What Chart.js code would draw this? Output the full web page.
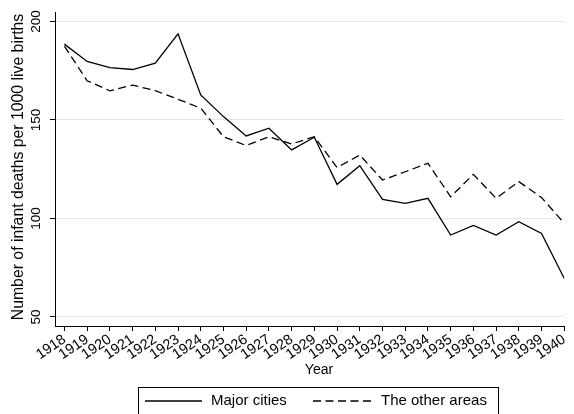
<!DOCTYPE html>
<html>
<head>
<meta charset="utf-8">
<title>Infant mortality, 1918–1940</title>
<script src="https://cdn.jsdelivr.net/npm/chart.js@4.4.1/dist/chart.umd.min.js"></script>
<style>
  html, body { margin: 0; padding: 0; background: #fff; overflow: hidden; }
  canvas { display: block; }
</style>
</head>
<body>
<canvas id="chart" width="574" height="414"></canvas>
<script>
// Infant deaths per 1000 live births by year
const years = [1918, 1919, 1920, 1921, 1922, 1923, 1924, 1925, 1926, 1927, 1928, 1929,
               1930, 1931, 1932, 1933, 1934, 1935, 1936, 1937, 1938, 1939, 1940];
const majorCities = [188.5, 179.7, 176.6, 175.6, 178.8, 193.7, 162.7, 151.7, 141.9, 145.8, 134.8, 141.2,
                     117.3, 126.8, 109.7, 107.7, 110.2, 91.6, 96.5, 91.6, 98.3, 92.4, 69.5];
const otherAreas = [187.5, 169.9, 164.8, 167.7, 164.9, 160.5, 156.0, 141.5, 137.0, 141.5, 137.8, 141.5,
                    125.8, 132.2, 119.5, 123.7, 128.0, 111.0, 122.4, 110.2, 118.7, 110.6, 97.5];
const yTicks = [50, 100, 150, 200];
const seriesNames = ['Major cities', 'The other areas'];
const xTitle = 'Year';
const yTitle = 'Number of infant deaths per 1000 live births';

const FONT = '"Liberation Sans", Arial, Helvetica, sans-serif';
const DASH = [8, 4.5];

const toPoints = vals => vals.map((v, i) => ({ x: years[i], y: v }));

// Vertical y tick labels, axis titles and a boxed legend underneath
const decorations = {
  id: 'decorations',
  afterDraw(chart) {
    const { ctx, scales } = chart;
    const y = scales.y;
    ctx.save();
    ctx.fillStyle = '#000';
    ctx.textAlign = 'center';
    ctx.textBaseline = 'middle';

    ctx.font = '13.5px ' + FONT;
    yTicks.forEach(v => {
      const py = y.getPixelForValue(v);
      ctx.save();
      ctx.translate(36, py);
      ctx.rotate(-Math.PI / 2);
      ctx.fillText(String(v), 0, 0);
      ctx.restore();
    });

    // y title
    ctx.font = '15.8px ' + FONT;
    ctx.save();
    ctx.translate(19, 167);
    ctx.rotate(-Math.PI / 2);
    ctx.fillText(yTitle, 0, 0);
    ctx.restore();

    // x title
    ctx.font = '14px ' + FONT;
    ctx.fillText(xTitle, 319, 370);

    // legend
    ctx.strokeStyle = '#000';
    ctx.lineWidth = 1;
    ctx.strokeRect(138.5, 387.5, 360, 40);
    const ly = 401;
    ctx.lineWidth = 1.3;
    ctx.beginPath();
    ctx.moveTo(145, ly);
    ctx.lineTo(202, ly);
    ctx.stroke();
    ctx.setLineDash(DASH);
    ctx.beginPath();
    ctx.moveTo(313, ly);
    ctx.lineTo(372, ly);
    ctx.stroke();
    ctx.setLineDash([]);
    ctx.font = '15px ' + FONT;
    ctx.textAlign = 'left';
    ctx.fillText(seriesNames[0], 211, ly);
    ctx.fillText(seriesNames[1], 381, ly);
    ctx.restore();
  }
};

new Chart(document.getElementById('chart'), {
  type: 'line',
  data: {
    datasets: [
      {
        label: seriesNames[0],
        data: toPoints(majorCities),
        borderColor: '#000',
        borderWidth: 1.3,
        pointRadius: 0,
        tension: 0,
        fill: false
      },
      {
        label: seriesNames[1],
        data: toPoints(otherAreas),
        borderColor: '#000',
        borderWidth: 1.3,
        borderDash: DASH,
        pointRadius: 0,
        tension: 0,
        fill: false
      }
    ]
  },
  options: {
    responsive: false,
    animation: false,
    devicePixelRatio: 1,
    layout: { padding: { top: 12, left: 0, right: 0, bottom: 0 } },
    plugins: {
      legend: { display: false },
      tooltip: { enabled: false }
    },
    scales: {
      x: {
        type: 'linear',
        min: 1917.586,
        max: 1940,
        afterBuildTicks: s => { s.ticks = years.map(v => ({ value: v })); },
        afterFit: s => { s.height = 88; },
        ticks: {
          autoSkip: false,
          minRotation: 34,
          maxRotation: 34,
          padding: 0,
          color: '#000',
          font: { family: FONT, size: 14.5 },
          callback: v => String(v)
        },
        grid: {
          drawOnChartArea: false,
          drawTicks: true,
          tickLength: 5,
          tickColor: '#000'
        },
        border: { color: '#000', width: 1 }
      },
      y: {
        type: 'linear',
        min: 45.4,
        max: 204.8,
        afterBuildTicks: s => { s.ticks = yTicks.map(v => ({ value: v })); },
        afterFit: s => { s.width = 55; },
        ticks: { display: false },
        grid: {
          color: '#e6e6e6',
          lineWidth: 1,
          drawTicks: true,
          tickLength: 5,
          tickColor: '#000'
        },
        border: { color: '#000', width: 1 }
      }
    }
  },
  plugins: [decorations]
});
</script>
</body>
</html>
